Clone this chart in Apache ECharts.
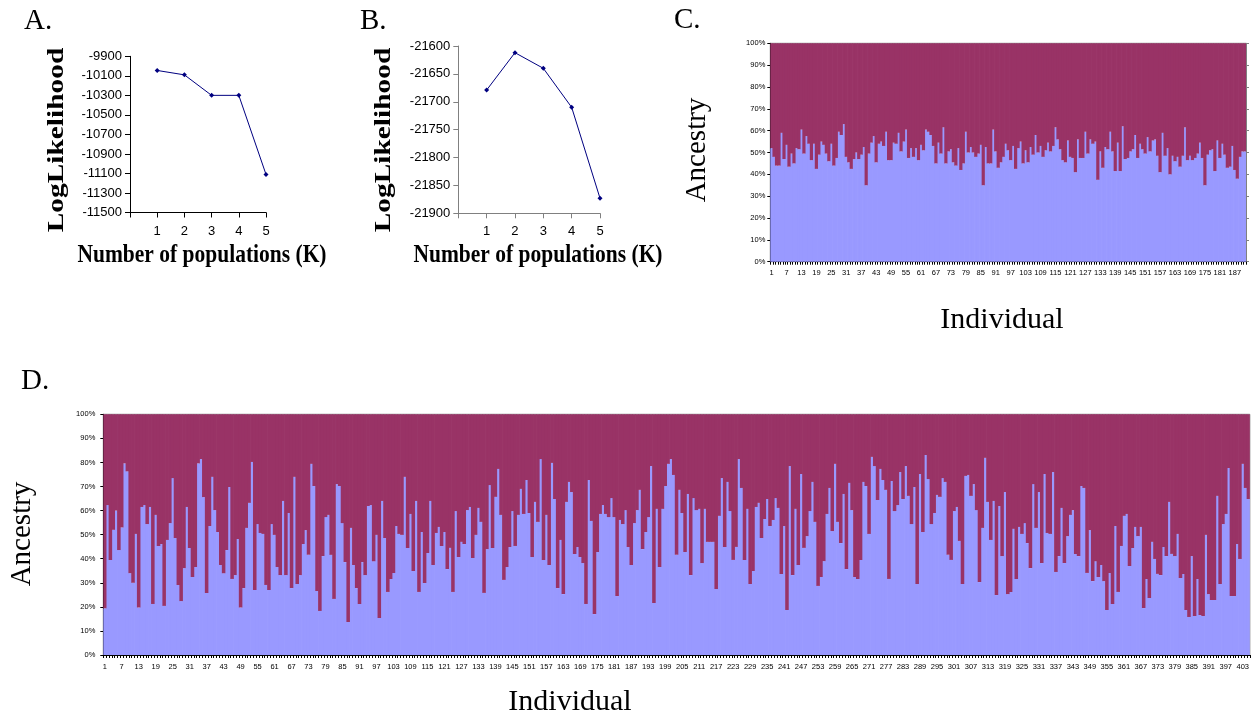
<!DOCTYPE html>
<html><head><meta charset="utf-8">
<script src="https://cdn.jsdelivr.net/npm/echarts@6/dist/echarts.min.js"></script>
<style>html,body{margin:0;padding:0;background:#fff}#c{width:1252px;height:717px}</style>
</head><body><div id="c"></div><script>
// ---------- data ----------
const kValues = [1, 2, 3, 4, 5];
const logLikA = [-10045, -10090, -10300, -10300, -11110];
const logLikB = [-21679, -21612, -21640, -21710, -21873];

// Panel C: % ancestry in the light (blue) cluster, 191 individuals
const ancestryC = [
52,48,44,44,59,47,53.5,43.5,49.5,45,
52,51.5,60.5,49.5,57.5,54,46.5,54,42.5,49,
55,53.5,49.5,46,54,44,47.5,59.5,58,63,
48,45.5,42.5,47,50,47,49,52.5,35,49.5,
54.5,57.5,45.5,54,55,53,59.5,46.5,46.5,54.5,
54,59,50.5,55,60.5,47.5,52,48,52,46.5,
53.5,51,60.5,59.5,58,53,45,54.5,49.5,61.5,
45,50.5,51.5,45.5,44,52,42,45,59.5,50,
52.5,50,48,49.5,53.5,35,52.5,45,45,60.5,
50.5,43,45.5,
48,54,51,46.5,53,42.5,52,55,45,
51,45.5,52.5,49,58,50,53,48,51,54.5,
50.5,53,61.5,56,51.5,46.5,45.5,55.5,48,
47.5,41,56,47.5,47.5,59.5,49.5,56,54,
55,37.5,50.5,43,52.5,51.5,59.5,50.5,41.5,54.5,
41.5,62,47,47.5,50.5,51.5,58,47.5,54,51.5,
49.5,57,50.5,55.5,56,48.5,41,59,48.5,52,
40,48.5,46,48,43.5,48.5,61.5,46.5,48.5,46.5,
47.5,49.5,54.5,47.5,35,49,51,51.5,41.5,55.5,
47.5,54,49,43,43.5,53,42,38,48,50.5,
50.5
];

// Panel D: % ancestry in the light (blue) cluster, 405 individuals
const ancestryD = [
19.4,62.3,39.5,52,60,43.6,53,79.6,76.3,34,
30,50.3,19.7,61.5,62.3,54.4,61.5,21.2,58.2,45.3,
46.1,20.4,47.8,54.8,73.5,48.6,29.1,22.4,36.1,61.5,
44.5,32.4,36.6,79.6,81.4,65.6,25.8,53.6,74,60.2,
51.1,37.4,34,43.6,69.8,31.6,33.2,48.2,19.7,27.8,
52.8,63.2,80.2,27,54.4,50.7,50.3,29.1,27,54.4,
49.9,36.6,33.2,64,33.2,59,
27.8,74,29.5,33.2,46.1,51.9,41.6,79.4,70.2,26.6,
18.3,41.1,57.3,58.2,41.6,23.3,71,70.2,54.8,38.6,
13.7,52.8,37.4,27.8,21.2,38.6,33.2,61.9,62.3,39,
49.9,15.4,64,48.6,26.2,31.6,34.1,53.6,50.3,49.9,
74,44.5,58.6,34.9,64,26.2,51.1,29.9,42.4,64,
37.4,50.7,53.2,45.3,51.1,35.7,44.5,26.2,59.8,40.7,
47,46.1,60.2,61.5,40.3,49.9,61.1,55.3,
25.8,44,70.6,44.5,65.7,77.3,58.2,31.2,36.6,44.9,
59.8,45.3,58.2,69,58.6,72.7,59,40.7,63.6,55.3,
81.4,39.5,58.2,37.4,79.8,64.8,27.8,47.8,25.3,63.6,
71.9,67.7,42,44.9,40.7,38.2,21.2,72.7,55.7,17,
42.8,58.6,62.3,58.6,57.3,65.2,57.3,24.5,56.1,54.4,
60.2,44.9,37.4,54.8,60.2,68.6,44,51.1,57.3,78.5,
21.6,60.7,36.6,60.7,70.2,79.4,81.4,
74.8,41.6,68.6,59,42.8,66.9,33.2,65.2,60.2,60.7,
38.2,60.7,47,47,47,27.4,57.8,73.5,44.9,71.9,
59.8,39.5,44.9,81.4,69.4,39.5,60.7,29.5,34.9,61.5,
63.2,48.6,56.5,64.8,53.6,56.1,65.2,61.1,33.7,53.6,
18.7,78.5,33.2,60.7,37.4,75.2,44.5,49.4,59.8,71.9,
55.3,28.7,32.4,39,58.6,69.4,51.5,79.4,55.3,46.5,
66.9,35.7,71.5,60.2,32.4,31.6,39.5,
71.9,70.2,50.3,82.3,78.5,64.4,77.3,72.7,68.6,31.6,
72.3,59.8,62.3,76,64.8,78.5,66.1,54.4,69.8,29.5,
75.2,51.1,83.1,73.1,54.4,59,66.5,65.7,73.5,71.9,
41.6,39.5,59.8,61.5,47.4,29.5,74.4,74.8,66.1,71,
60.2,30.3,52.8,81.9,63.6,47.8,64,24.9,61.9,41.1,
67.7,25.3,26.2,52.4,31.6,53.2,50.3,54.8,46.5,36.1,
71,52.8,67.7,38.2,75.2,50.7,
50.3,76,34.5,41.1,61.1,38.2,49.4,58.2,60.2,42,
41.1,70.2,69.4,34.1,51.9,30.7,39,32.4,37.4,30.7,
18.7,34.1,21.2,53.6,26.2,45.3,57.8,58.6,37,44.5,
53.2,49.4,53.2,19.5,31.6,23.7,47,39.9,33.7,33.2,
44.9,41.1,63.6,42,41.1,50.3,32,33.7,18.7,15.8,
41.1,16.2,31.6,16.6,16.2,49.9,25.3,22.9,22.9,66.1,
29.5,54.4,58.6,77.7,24.5,24.5,46.1,39.9,79.4,69.4,
64.8
];

const panelLetters = ['A.', 'B.', 'C.', 'D.'];
const axisTitleLL = 'LogLikelihood';
const axisTitleK = 'Number of populations (K)';
const axisTitleAnc = 'Ancestry';
const axisTitleInd = 'Individual';

// ---------- derived ----------
const catC = ancestryC.map((_, i) => String(i + 1));
const catD = ancestryD.map((_, i) => String(i + 1));
const restC = ancestryC.map(v => Math.round((100 - v) * 10) / 10);
const restD = ancestryD.map(v => Math.round((100 - v) * 10) / 10);

const SANS = '"Liberation Sans", Arial, sans-serif';
const SERIF = '"Liberation Serif", "Times New Roman", serif';
const BLUE = '#9999FF', MAG = '#993366', NAVY = '#000080';

const gridC = { left: 770.3, top: 43.3, width: 475.7, height: 218.4 };
const gridD = { left: 103.3, top: 414.3, width: 1147.7, height: 240.7 };

function llX(grid, color) {
  return { gridIndex: grid, type: 'value', min: 0, max: 5, interval: 1,
    splitLine: { show: false },
    axisLine: { show: true, onZero: false, lineStyle: { color: color, width: 1 } },
    axisTick: { show: true, length: 5, lineStyle: { color: color } },
    axisLabel: { formatter: v => v === 0 ? '' : String(v), fontFamily: SANS, fontSize: 13, color: '#000', margin: 12 } };
}
function llY(grid, min, max, step, color) {
  return { gridIndex: grid, type: 'value', min: min, max: max, interval: step,
    splitLine: { show: false },
    axisLine: { show: true, onZero: false, lineStyle: { color: color, width: 1 } },
    axisTick: { show: true, length: 5, lineStyle: { color: color } },
    axisLabel: { formatter: v => String(v), fontFamily: SANS, fontSize: 13, color: '#000', margin: 8 } };
}
function ancX(grid, cats, margin) {
  return { gridIndex: grid, type: 'category', data: cats, boundaryGap: true,
    axisLine: { show: true, onZero: false, lineStyle: { color: '#000', width: 1 } },
    axisTick: { show: true, interval: 0, length: 3, lineStyle: { color: '#000' } },
    axisLabel: { interval: 5, fontFamily: SANS, fontSize: 7.5, color: '#000', margin: margin } };
}
function ancY(grid, margin) {
  return { gridIndex: grid, type: 'value', min: 0, max: 100, interval: 10,
    splitLine: { show: false },
    axisLine: { show: true, onZero: false, lineStyle: { color: '#000', width: 1 } },
    axisTick: { show: true, length: 3, lineStyle: { color: '#000' } },
    axisLabel: { formatter: '{value}%', fontFamily: SANS, fontSize: 7.5, color: '#000', margin: margin } };
}
function txt(x, y, text, font, opts) {
  opts = opts || {};
  return { type: 'text', x: x, y: y, rotation: opts.rot || 0,
    scaleX: opts.sx || 1, scaleY: opts.sy || 1, silent: true,
    style: { text: text, font: font, fill: '#000',
      textAlign: opts.align || 'center', textVerticalAlign: 'middle',
      align: opts.align || 'center', verticalAlign: 'middle' } };
}
function barPair(xi, yi, blue, rest, stack, bw) {
  return [
    { type: 'bar', xAxisIndex: xi, yAxisIndex: yi, stack: stack, data: blue,
      barWidth: bw, barGap: '-100%', animation: false,
      itemStyle: { color: BLUE } },
    { type: 'bar', xAxisIndex: xi, yAxisIndex: yi, stack: stack, data: rest,
      barWidth: bw, barGap: '-100%', animation: false,
      itemStyle: { color: MAG } }
  ];
}
// bars slightly wider than their category so neighbours overlap (no hairline seams)
const bwC = gridC.width / ancestryC.length + 0.7;
const bwD = gridD.width / ancestryD.length + 0.7;

const option = {
  animation: false,
  backgroundColor: '#fff',
  grid: [
    { left: 130, top: 56.3, width: 136, height: 156.2 },
    { left: 458.3, top: 46, width: 141.7, height: 167.3 },
    Object.assign({ show: true, borderColor: '#808080', borderWidth: 1 }, gridC),
    Object.assign({ show: true, borderColor: '#808080', borderWidth: 1 }, gridD)
  ],
  xAxis: [
    llX(0, '#000'),
    llX(1, '#808080'),
    ancX(2, catC, 7),
    ancX(3, catD, 8)
  ],
  yAxis: [
    llY(0, -11500, -9900, 200, '#000'),
    llY(1, -21900, -21600, 50, '#808080'),
    ancY(2, 5),
    ancY(3, 8),
    { gridIndex: 2, type: 'value', position: 'right', min: 0, max: 100, interval: 10,
      splitLine: { show: false },
      axisLine: { show: true, lineStyle: { color: '#808080' } },
      axisTick: { show: true, length: 3, lineStyle: { color: '#808080' } },
      axisLabel: { show: false } }
  ],
  series: [
    { type: 'line', xAxisIndex: 0, yAxisIndex: 0,
      data: kValues.map((k, i) => [k, logLikA[i]]),
      symbol: 'diamond', symbolSize: 5,
      lineStyle: { color: NAVY, width: 1 }, itemStyle: { color: NAVY } },
    { type: 'line', xAxisIndex: 1, yAxisIndex: 1,
      data: kValues.map((k, i) => [k, logLikB[i]]),
      symbol: 'diamond', symbolSize: 5,
      lineStyle: { color: NAVY, width: 1 }, itemStyle: { color: NAVY } }
  ].concat(barPair(2, 2, ancestryC, restC, 'c', bwC), barPair(3, 3, ancestryD, restD, 'd', bwD)),
  graphic: { elements: [
    txt(24, 21, panelLetters[0], '29px ' + SERIF, { align: 'left' }),
    txt(360, 21, panelLetters[1], '29px ' + SERIF, { align: 'left' }),
    txt(674, 20, panelLetters[2], '29px ' + SERIF, { align: 'left' }),
    txt(21, 381, panelLetters[3], '29px ' + SERIF, { align: 'left' }),
    txt(57, 140, axisTitleLL, 'bold 23.5px ' + SERIF, { rot: Math.PI / 2, sx: 1.25 }),
    txt(384, 140, axisTitleLL, 'bold 23.5px ' + SERIF, { rot: Math.PI / 2, sx: 1.25 }),
    txt(202, 255, axisTitleK, 'bold 21.5px ' + SERIF, { sy: 1.18 }),
    txt(538, 255, axisTitleK, 'bold 21.5px ' + SERIF, { sy: 1.18 }),
    txt(697, 150, axisTitleAnc, '29px ' + SERIF, { rot: Math.PI / 2 }),
    txt(1002, 320, axisTitleInd, '30px ' + SERIF),
    txt(22, 534, axisTitleAnc, '29px ' + SERIF, { rot: Math.PI / 2 }),
    txt(570, 702, axisTitleInd, '30px ' + SERIF)
  ] }
};

const chart = echarts.init(document.getElementById('c'), null, { renderer: 'canvas' });
chart.setOption(option);
</script></body></html>
